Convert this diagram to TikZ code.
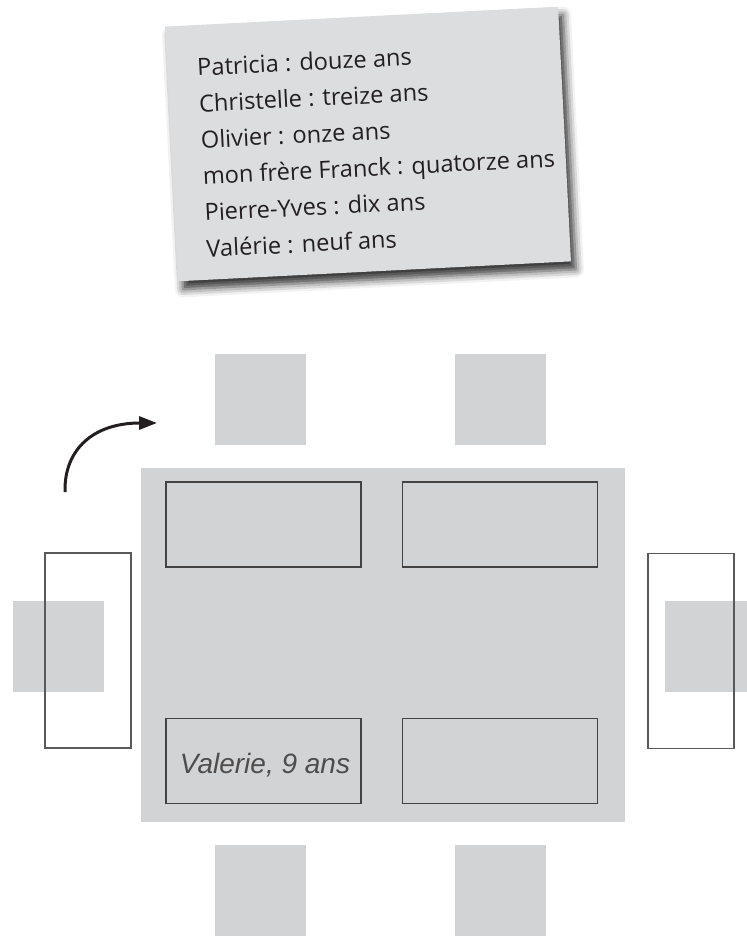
\documentclass[tikz,border=0pt]{standalone}
\usepackage{fontspec}
\setmainfont{Open Sans}
\newfontfamily\handfont{Liberation Sans}
\usetikzlibrary{arrows.meta,shadows.blur}
\definecolor{tablegray}{HTML}{D1D3D4}
\definecolor{notegray}{HTML}{DCDDDE}
\definecolor{inkblack}{HTML}{231F20}
\definecolor{linegray}{HTML}{58595B}

\begin{document}
\begin{tikzpicture}[
  x=0.5pt, y=-0.5pt,
  chair/.style={fill=tablegray, minimum size=45.5pt, inner sep=0pt},
  tablebox/.style={fill=tablegray, minimum width=242pt, minimum height=177pt, inner sep=0pt},
  placecard/.style={draw=inkblack!85, line width=0.6pt, minimum width=97.5pt, minimum height=42.5pt, inner sep=0pt},
  bench/.style={draw=linegray, line width=0.7pt, minimum width=43pt, minimum height=97.5pt, inner sep=0pt},
  notecard/.style={fill=notegray, minimum width=196.75pt, minimum height=127.5pt, inner sep=0pt,
    blur shadow={shadow xshift=2.5pt, shadow yshift=-4pt, shadow blur radius=4pt, shadow opacity=80}},
  notetext/.style={inner sep=0pt, text=inkblack, font=\fontsize{11.8}{14}\selectfont},
  handtext/.style={inner sep=0pt, text=inkblack!80, font=\handfont\itshape\fontsize{14}{16}\selectfont},
  turnarrow/.style={draw=inkblack, line width=1.5pt, -{Triangle[length=9pt, width=6.5pt]}}
]
\useasboundingbox (0,0) rectangle (746,936);

% --- Note with the ages ---
\begin{scope}[shift={(368,144)}, rotate=2.9, transform shape]
\node[notecard] (note) at (0,0) {};
\foreach \agetext [count=\i] in {Patricia : douze ans, Christelle : treize ans,
    Olivier : onze ans, mon frère Franck : quatorze ans,
    Pierre-Yves : dix ans, Valérie : neuf ans}
  \node[notetext, anchor=base west] (age\i) at (-167,{-76.6+(\i-1)*36.3}) {\agetext};
\end{scope}

% --- Chairs ---
\node[chair] (chairTL) at (260.5,399.5) {};
\node[chair] (chairTR) at (500,399.5) {};
\node[chair] (chairBL) at (260.5,890.5) {};
\node[chair] (chairBR) at (500,890.5) {};
\node[chair] (chairL) at (58,646) {};
\node[chair] (chairR) at (710.5,646) {};

% --- Side benches ---
\node[bench] (benchL) at (88,650.5) {};
\node[bench] (benchR) at (691,651) {};

% --- Table and place cards ---
\node[tablebox] (table) at (383,645) {};
\node[placecard] (placeTL) at (263.5,524.5) {};
\node[placecard] (placeTR) at (500,524.5) {};
\node[placecard] (placeBL) at (263.5,761) {};
\node[placecard] (placeBR) at (500,761) {};
\node[handtext] (valerie) at (265,765) {Valerie, 9 ans};

% --- Turn arrow ---
\coordinate (turnstart) at (65,492);
\coordinate (turnend) at (157,423);
\draw[turnarrow] (turnstart) .. controls (64,448) and (95,423) .. (turnend);

\end{tikzpicture}
\end{document}
